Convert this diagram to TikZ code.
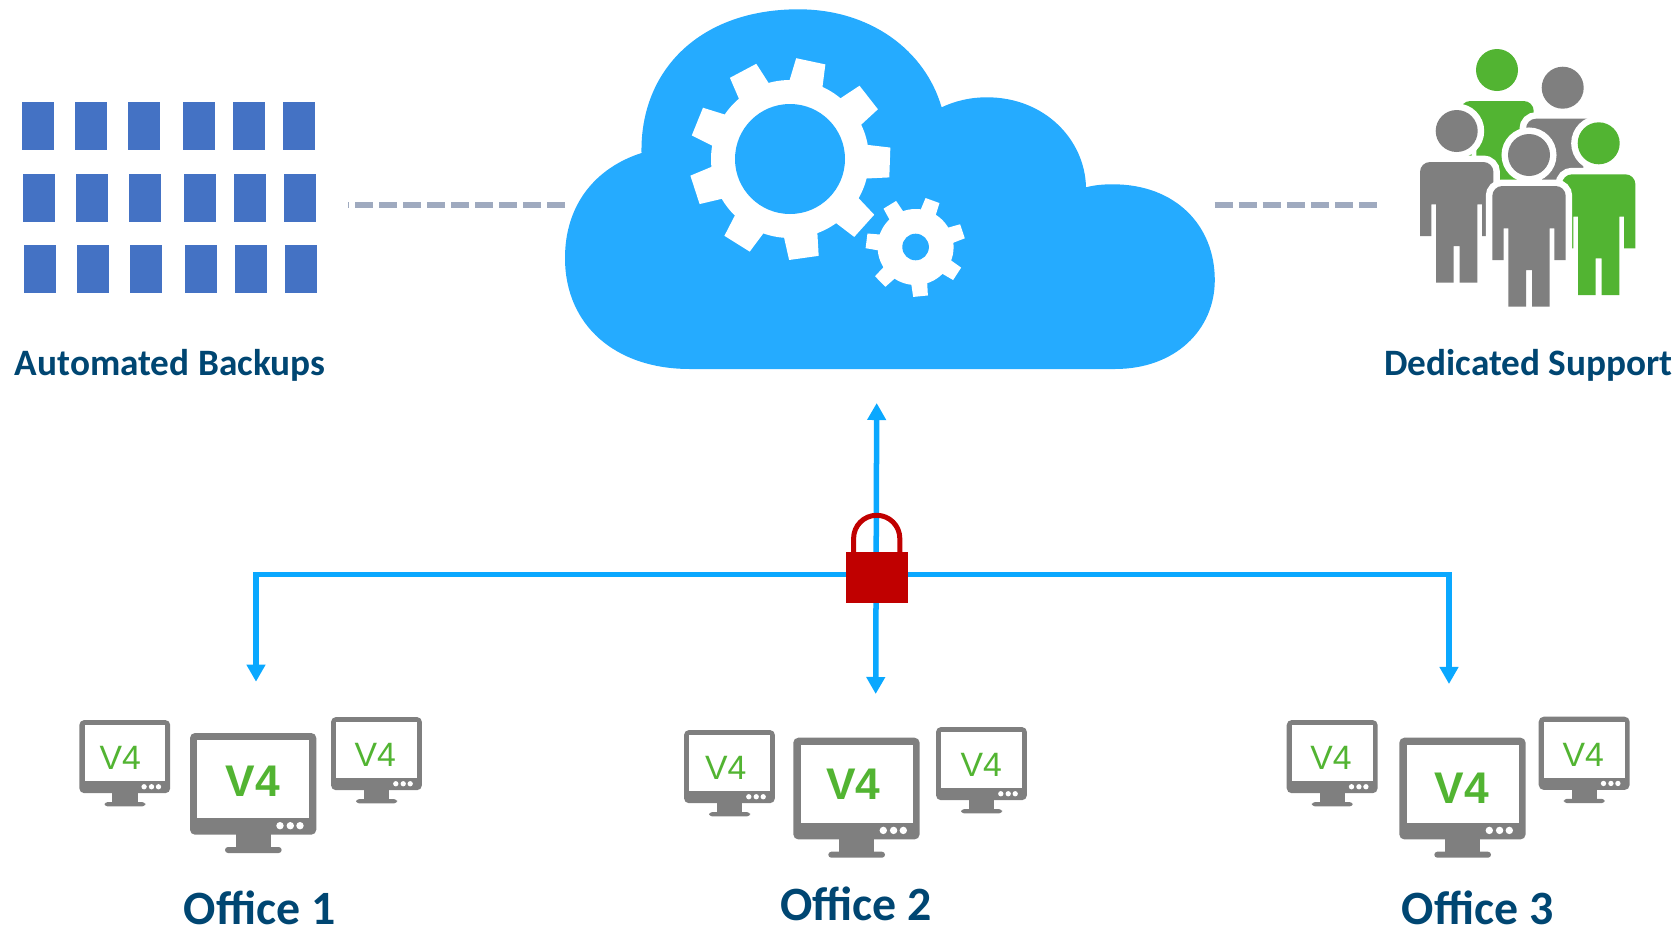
\documentclass[tikz,border=0pt]{standalone}
\usepackage{fontspec}
\setmainfont{Carlito}
\newfontfamily\vfont{Liberation Sans}
\usetikzlibrary{arrows.meta}
\definecolor{cloudblue}{HTML}{25ABFF}
\definecolor{linkblue}{HTML}{0AA8FF}
\definecolor{backupblue}{HTML}{4472C4}
\definecolor{dashgray}{HTML}{9FAABF}
\definecolor{screengray}{HTML}{7F7F7F}
\definecolor{peoplegreen}{HTML}{52B432}
\definecolor{labelblue}{HTML}{004672}
\definecolor{lockred}{HTML}{C00000}
\tikzset{
	link/.style={draw=linkblue,line width=.55mm},
	tip/.style={-{Triangle[width=1.8mm,length=1.7mm]}},
	tipboth/.style={{Triangle[width=1.8mm,length=1.7mm]}-{Triangle[width=1.8mm,length=1.7mm]}},
	dashlink/.style={draw=dashgray,line width=.6mm,dash pattern=on 1.8mm off .6mm},
	toplabel/.style={anchor=base,inner sep=0pt,text=labelblue,font=\fontsize{10.6}{12}\bfseries},
	officelabel/.style={anchor=base,inner sep=0pt,text=labelblue,font=\fontsize{13.6}{16}\bfseries},
	vbig/.style={text=peoplegreen,font=\fontsize{12.6}{14}\vfont\bfseries,inner sep=0pt},
	vsmall/.style={text=peoplegreen,font=\fontsize{9.6}{11}\vfont,inner sep=0pt},
	pics/monitor/.style 2 args={code={
		\fill[screengray,rounded corners=.5mm] (0,0) rectangle (126.3,101.7);
		\fill[white] (7.3,7) rectangle (119.3,85);
		\fill[screengray] (45.7,100) rectangle (81,115);
		\fill[screengray,rounded corners=.3mm] (35,114) rectangle (91.7,120);
		\foreach \dotx in {90,100.3,110}{
			\fill[white] (\dotx,92.7) circle (3.7);
		}
		\node[#1] (-v) at (#2) {V4};
	}},
	pics/person/.style={code={
		\fill[#1,preaction={draw=white,line width=1.3mm}] (0,0) circle (21);
		\fill[#1,preaction={draw=white,line width=1.3mm}] (-36.7,105) [rounded corners=1mm] -- (-36.7,31) -- (36.7,31) [sharp corners] -- (36.7,105) -- (25.3,105) -- (25.3,73.3) -- (20.7,73.3) -- (20.7,151.7) -- (3,151.7) -- (3,115) -- (-3,115) -- (-3,151.7) -- (-20.7,151.7) -- (-20.7,73.3) -- (-25.3,73.3) -- (-25.3,105) -- cycle;
	}},
	pics/gear/.style n args={5}{code={
		\fill[white] (0,0) circle (#1);
		\foreach \t [evaluate=\t as \a using {#4+\t*360/#5}] in {1,...,#5}{
			\fill[white] (\a-12.5:#1-1) -- (\a-8.5:#2) -- (\a+8.5:#2) -- (\a+12.5:#1-1) -- cycle;
		}
		\fill[cloudblue] (0,0) circle (#3);
	}},
}
\begin{document}
\begin{tikzpicture}[x=.01cm,y=-.01cm]
	\useasboundingbox (0,0) rectangle (1678,927);

	\foreach \col in {21.8,75.1,128,183.1,233.1,283}{
		\foreach \row/\off in {102/0,174/1,245/2.2}{
			\fill[backupblue] (\col+\off,\row) rectangle ++(32,48);
		}
	}
	\node[toplabel] (backups) at (170,375.3) {Automated Backups};

	\coordinate (backupsend) at (348,205);
	\coordinate (cloudleft) at (565,205);
	\coordinate (cloudright) at (1214.7,205);
	\coordinate (supportend) at (1377,205);
	\draw[dashlink] (cloudleft) -- (backupsend);
	\draw[dashlink] (cloudright) -- (supportend);

	\fill[cloudblue] (641.5,153) .. controls (640,70) and (700,9.3) .. (798.5,9.3) .. controls (870,9.3) and (925,50) .. (941.6,107.3) .. controls (955,101) and (970,97.3) .. (987,97.3) .. controls (1045,97.3) and (1085,140) .. (1086,187.3) .. controls (1095,185) and (1103,184.3) .. (1113,184.3) .. controls (1175,184.3) and (1214.8,225) .. (1214.8,280) .. controls (1214.8,330) and (1175,369) .. (1115,369) -- (690,369) .. controls (615,369) and (565,325) .. (565,258) .. controls (565,205) and (595,168) .. (641.5,153) -- cycle;
	\pic (biggear) at (790,159) {gear={79}{101}{55}{-78}{9}};
	\pic (smallgear) at (915.6,247) {gear={38}{50}{13.3}{-70}{7}};

	\pic (greentop) at (1497,70) {person=peoplegreen};
	\pic (grayback) at (1562.7,87.7) {person=screengray};
	\pic (grayleft) at (1456.7,131) {person=screengray};
	\pic (greenright) at (1598.7,143.3) {person=peoplegreen};
	\pic (grayfront) at (1529,155) {person=screengray};
	\node[toplabel] (support) at (1528.5,375.5) {Dedicated Support};

	\coordinate (cloudport) at (876.7,403);
	\coordinate (hub) at (876.7,574.5);
	\coordinate (officeoneport) at (256,681.7);
	\coordinate (officetwoport) at (875.7,694);
	\coordinate (officethreeport) at (1449,684);
	\draw[link,tipboth] (cloudport) -- (officetwoport);
	\draw[link,tip] (hub) -| (officeoneport);
	\draw[link,tip] (hub) -| (officethreeport);

	\draw[lockred,line width=.5mm] (853.6,552.3) -- (853.6,538.4) arc[start angle=180,end angle=360,radius=23.1] -- (899.8,552.3);
	\fill[lockred] (846,552.3) rectangle (908,602.7);

	\pic[scale=.72] (onea) at (79.3,720) {monitor={vsmall}{57,53}};
	\pic (oneb) at (190,733) {monitor={vbig}{62.7,48}};
	\pic[scale=.72] (onec) at (331,717) {monitor={vsmall}{61.5,53}};
	\node[officelabel] (officeone) at (259.5,924) {Office 1};

	\pic[scale=.72] (twoa) at (684,730) {monitor={vsmall}{58,53}};
	\pic (twob) at (793.3,737.7) {monitor={vbig}{60,46.3}};
	\pic[scale=.72] (twoc) at (936,727) {monitor={vsmall}{63,53}};
	\node[officelabel] (officetwo) at (856,920.3) {Office 2};

	\pic[scale=.72] (threea) at (1286.7,720) {monitor={vsmall}{61.5,53}};
	\pic (threeb) at (1399.3,737.7) {monitor={vbig}{62.4,50.6}};
	\pic[scale=.72] (threec) at (1538.7,716.7) {monitor={vsmall}{62,53}};
	\node[officelabel] (officethree) at (1477.5,924) {Office 3};
\end{tikzpicture}
\end{document}
